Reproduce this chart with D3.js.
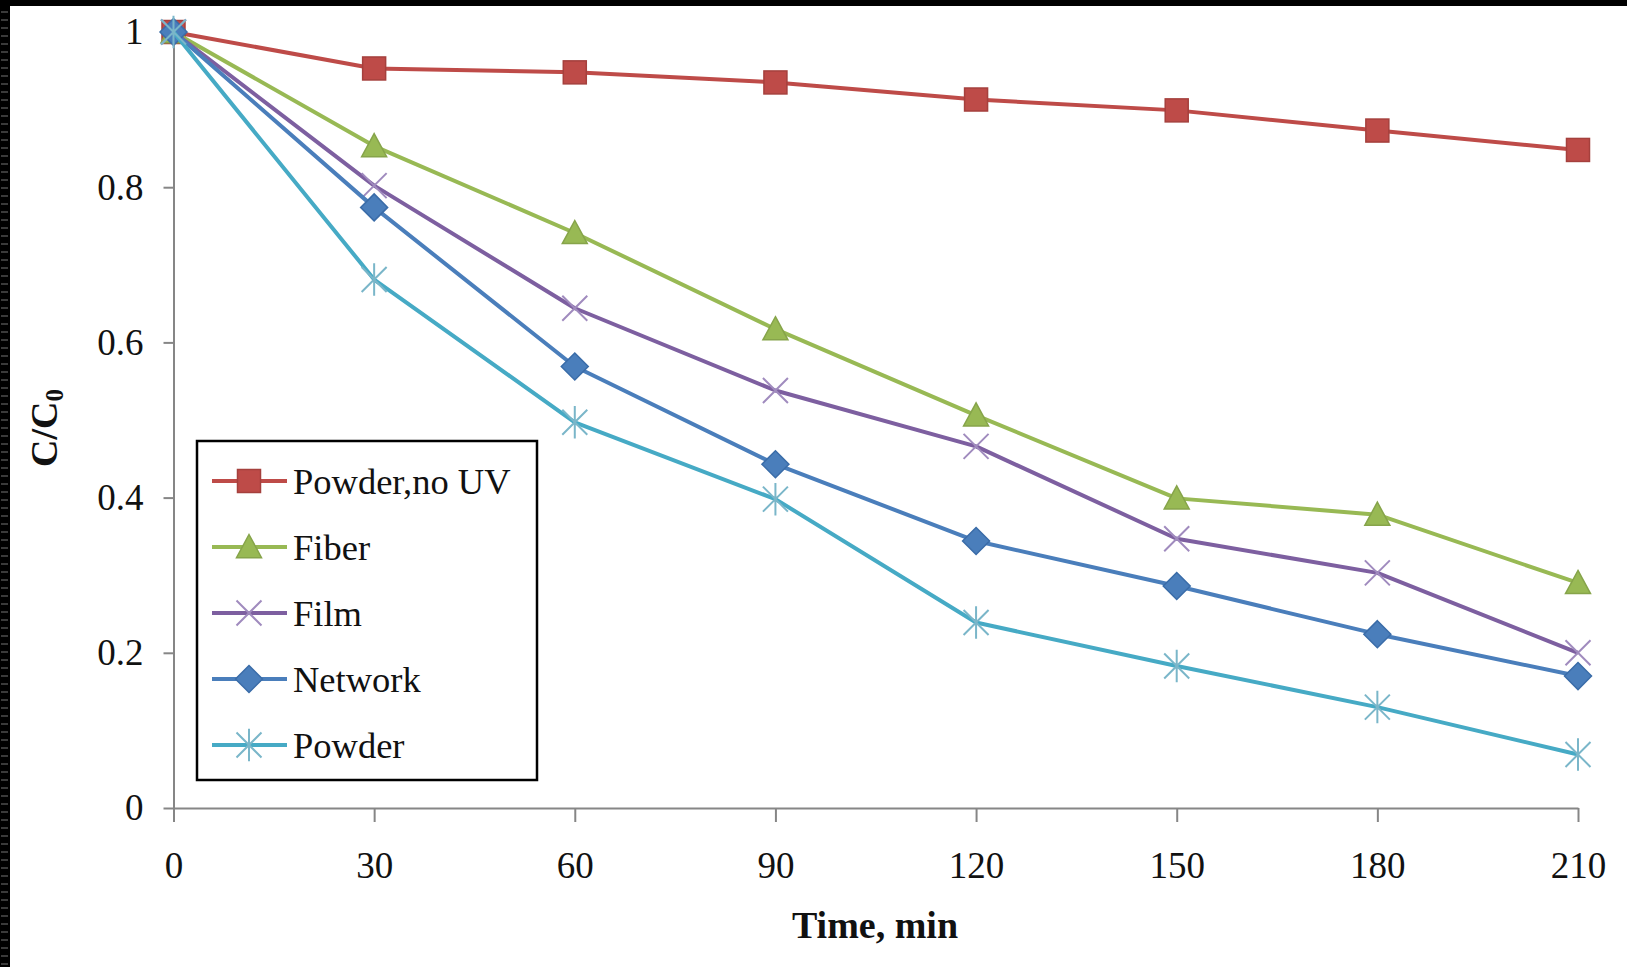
<!DOCTYPE html>
<html>
<head>
<meta charset="utf-8">
<script src="https://cdn.jsdelivr.net/npm/d3@7/dist/d3.min.js"></script>
<style>
  html, body { margin: 0; padding: 0; background: #fff; }
  svg { display: block; }
</style>
</head>
<body>
<script>
// ---- data ----
const times = [0, 30, 60, 90, 120, 150, 180, 210];
const seriesNames = ["Powder,no UV", "Fiber", "Film", "Network", "Powder"];
const powderNoUV = [1, 0.953, 0.948, 0.935, 0.913, 0.899, 0.873, 0.848];
const fiber      = [1, 0.853, 0.741, 0.617, 0.506, 0.399, 0.378, 0.290];
const film       = [1, 0.802, 0.644, 0.538, 0.466, 0.347, 0.303, 0.200];
const network    = [1, 0.774, 0.569, 0.443, 0.344, 0.286, 0.224, 0.170];
const powder     = [1, 0.681, 0.497, 0.398, 0.239, 0.183, 0.130, 0.069];
const yTicks = [0, 0.2, 0.4, 0.6, 0.8, 1];
const yTickLabels = ["0", "0.2", "0.4", "0.6", "0.8", "1"];
const xTicks = [0, 30, 60, 90, 120, 150, 180, 210];

const seriesValues = [powderNoUV, fiber, film, network, powder];
const colors = ["#BE4B48", "#98B954", "#7D5FA0", "#4A7EBB", "#46AAC5"];
const markerTypes = ["square", "triangle", "x", "diamond", "star"];

const W = 1627, H = 967;
const svg = d3.select("body").append("svg").attr("width", W).attr("height", H);

// film-strip style border (top & left)
const defs = svg.append("defs");
const pat = defs.append("pattern").attr("id", "strip").attr("patternUnits", "userSpaceOnUse")
  .attr("width", 10).attr("height", 8);
pat.append("rect").attr("width", 10).attr("height", 8).attr("fill", "#000");
pat.append("rect").attr("x", 1).attr("y", 3).attr("width", 7).attr("height", 2).attr("fill", "#3a3a3a");
svg.append("rect").attr("x", 0).attr("y", 0).attr("width", 10).attr("height", H).attr("fill", "url(#strip)");
svg.append("rect").attr("x", 0).attr("y", 0).attr("width", W).attr("height", 6).attr("fill", "#000");

const x = d3.scaleLinear().domain([0, 210]).range([173.5, 1578]);
const y = d3.scaleLinear().domain([0, 1]).range([808, 32]);

const serif = "'Liberation Serif','Times New Roman',serif";

// axes
const yAxis = svg.append("g").attr("transform", `translate(${x(0)},0)`)
  .call(d3.axisLeft(y).tickValues(yTicks).tickFormat((d, i) => yTickLabels[i]).tickSize(10).tickPadding(20).tickSizeOuter(0));
const xAxis = svg.append("g").attr("transform", `translate(0,${y(0)})`)
  .call(d3.axisBottom(x).tickValues(xTicks).tickSize(14).tickPadding(30).tickSizeOuter(0));
[yAxis, xAxis].forEach(g => {
  g.select(".domain").attr("stroke", "#868686").attr("stroke-width", 2);
  g.selectAll(".tick line").attr("stroke", "#868686").attr("stroke-width", 2);
  g.selectAll(".tick text").attr("fill", "#111").style("font-family", serif).style("font-size", "37px");
});

// marker drawing
function drawMarker(g, type, color, cx, cy) {
  const s = 11.5;
  if (type === "square") {
    g.append("rect").attr("x", cx - s).attr("y", cy - s).attr("width", 2 * s).attr("height", 2 * s)
      .attr("fill", color).attr("stroke", "#A5403D").attr("stroke-width", 1.5);
  } else if (type === "triangle") {
    const h = 12.5;
    g.append("path").attr("d", `M${cx},${cy - h} L${cx + h},${cy + h * 0.85} L${cx - h},${cy + h * 0.85} Z`)
      .attr("fill", color).attr("stroke", "#86A44A").attr("stroke-width", 1.5);
  } else if (type === "diamond") {
    const d = 13.5;
    g.append("path").attr("d", `M${cx},${cy - d} L${cx + d},${cy} L${cx},${cy + d} L${cx - d},${cy} Z`)
      .attr("fill", color).attr("stroke", "#3A6CA8").attr("stroke-width", 1.5);
  } else if (type === "x") {
    const d = 12.5;
    g.append("path").attr("d", `M${cx - d},${cy - d} L${cx + d},${cy + d} M${cx - d},${cy + d} L${cx + d},${cy - d}`)
      .attr("stroke", "#A08BBE").attr("stroke-width", 2).attr("fill", "none");
  } else if (type === "star") {
    const d = 12.5;
    g.append("path").attr("d", `M${cx - d},${cy - d} L${cx + d},${cy + d} M${cx - d},${cy + d} L${cx + d},${cy - d} M${cx},${cy - d * 1.3} L${cx},${cy + d * 1.3}`)
      .attr("stroke", "#7AB6C9").attr("stroke-width", 2).attr("fill", "none");
  }
}

const line = d3.line().x(d => x(d.t)).y(d => y(d.v));

seriesValues.forEach((vals, i) => {
  const pts = times.map((t, j) => ({ t, v: vals[j] }));
  const g = svg.append("g");
  g.append("path").datum(pts).attr("d", line).attr("fill", "none")
    .attr("stroke", colors[i]).attr("stroke-width", 4).attr("stroke-linejoin", "round");
  pts.forEach(p => drawMarker(g, markerTypes[i], colors[i], x(p.t), y(p.v)));
});

// legend
const lg = svg.append("g");
lg.append("rect").attr("x", 197).attr("y", 441).attr("width", 340).attr("height", 339)
  .attr("fill", "#fff").attr("stroke", "#000").attr("stroke-width", 2.5);
seriesNames.forEach((name, i) => {
  const cy = 481 + i * 66;
  lg.append("line").attr("x1", 212).attr("x2", 287).attr("y1", cy).attr("y2", cy)
    .attr("stroke", colors[i]).attr("stroke-width", 4);
  drawMarker(lg, markerTypes[i], colors[i], 249, cy);
  lg.append("text").attr("x", 293).attr("y", cy).attr("dy", "0.35em").text(name)
    .style("font-family", serif).style("font-size", "36.5px").attr("fill", "#111");
});

// axis titles
svg.append("text").attr("x", 875).attr("y", 938).attr("text-anchor", "middle")
  .style("font-family", serif).style("font-size", "38px").style("font-weight", "bold").attr("fill", "#111")
  .text("Time, min");

const yt = svg.append("text").attr("transform", "translate(57,428) rotate(-90)").attr("text-anchor", "middle")
  .style("font-family", serif).style("font-size", "38px").style("font-weight", "bold").attr("fill", "#111");
yt.append("tspan").text("C/C");
yt.append("tspan").attr("dy", "0.25em").style("font-size", "25px").text("0");
</script>
</body>
</html>
